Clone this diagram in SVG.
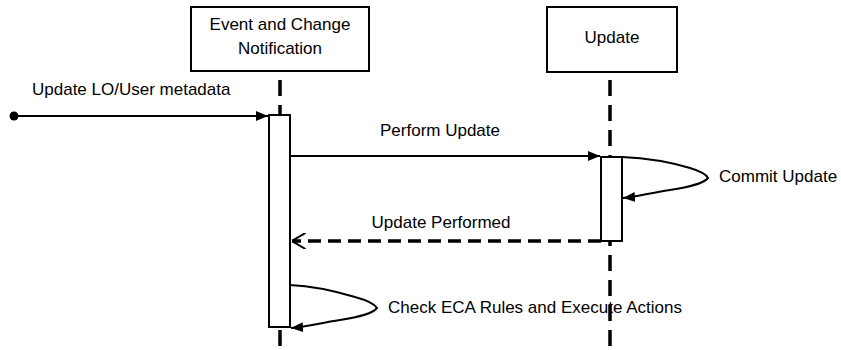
<svg xmlns="http://www.w3.org/2000/svg" width="841" height="350" viewBox="0 0 841 350">
<style>
text{font-family:"Liberation Sans",Arial,sans-serif;font-size:17px;fill:#000}
.box{fill:#fff;stroke:#000;stroke-width:2}
.life{fill:none;stroke:#000;stroke-width:3.5;stroke-dasharray:16 9}
.msg{fill:none;stroke:#000;stroke-width:2}
.ret{fill:none;stroke:#000;stroke-width:3.5;stroke-dasharray:13 7}
</style>
<defs>
<marker id="fill" viewBox="0 0 12 10" refX="12" refY="5" markerWidth="12" markerHeight="10" markerUnits="userSpaceOnUse" orient="auto"><path d="M0,0 L12,5 L0,10 z" fill="#000"/></marker>
<marker id="open" viewBox="0 0 14 16" refX="13.5" refY="8" markerWidth="14" markerHeight="16" markerUnits="userSpaceOnUse" orient="auto"><path d="M0,0 L13.5,8 L0,16" fill="none" stroke="#000" stroke-width="2"/></marker>
</defs>
<g id="lifelines">
<path class="life" d="M280,80 V350"/>
<path class="life" d="M610,80 V350"/>
</g>
<g id="event">
<rect class="box" x="191" y="7" width="178" height="64"/>
<text x="280" y="30" text-anchor="middle">Event and Change</text>
<text x="280" y="54" text-anchor="middle">Notification</text>
</g>
<g id="update">
<rect class="box" x="547" y="7" width="130" height="65"/>
<text x="612" y="43" text-anchor="middle">Update</text>
</g>
<g id="event-activation">
<rect class="box" x="269" y="115" width="21" height="212"/>
</g>
<g id="update-activation">
<rect class="box" x="601" y="157" width="21" height="84"/>
</g>
<g id="connectors">
<circle cx="14" cy="116" r="4.5" fill="#000"/>
<path class="msg" d="M14,116 L268,116" marker-end="url(#fill)"/>
<path class="msg" d="M290,156 L600,156" marker-end="url(#fill)"/>
<path class="ret" d="M601,241 L292,241" marker-end="url(#open)"/>
<path class="msg" d="M622,157 C645,158 670,162 690,168 C700,171 706,174 708,178 C703,184 690,187 670,190 C650,193 635,197 623,198" marker-end="url(#fill)"/>
<path class="msg" d="M290,285 C312,286 335,291 355,297 C366,300 374,303 377,308 C372,314 360,317 340,320 C320,323 305,327 291,328" marker-end="url(#fill)"/>
</g>
<g id="labels">
<text x="32" y="95">Update LO/User metadata</text>
<text x="440" y="136" text-anchor="middle">Perform Update</text>
<text x="441" y="228" text-anchor="middle">Update Performed</text>
<text x="719" y="182">Commit Update</text>
<text x="388" y="313">Check ECA Rules and Execute Actions</text>
</g>
</svg>
